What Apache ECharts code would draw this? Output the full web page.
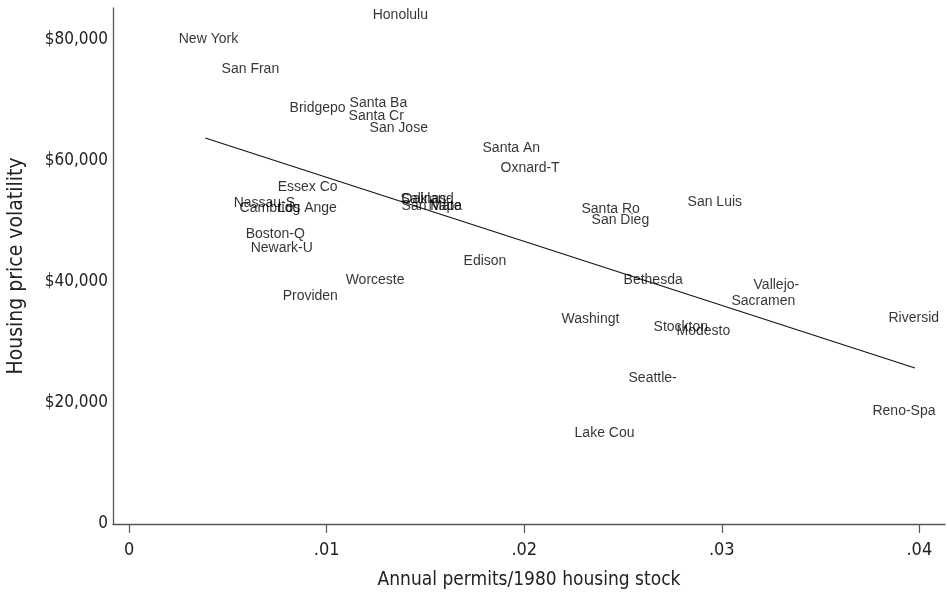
<!DOCTYPE html>
<html>
<head>
<meta charset="utf-8">
<script src="https://cdn.jsdelivr.net/npm/echarts@6/dist/echarts.min.js"></script>
<style>
  html, body { margin: 0; padding: 0; background: #fff; }
  #chart { width: 947px; height: 603px; }
</style>
</head>
<body>
<div id="chart"></div>
<script>
// Metro areas: annual permits relative to 1980 housing stock vs. housing price volatility
const cities = [
  'Honolulu', 'New York', 'San Fran', 'Bridgepo', 'Santa Ba', 'Santa Cr', 'San Jose',
  'Santa An', 'Oxnard-T', 'Essex Co', 'Nassau-S', 'Cambridg', 'Los Ange', 'Salinas-',
  'Oakland', 'San Mate', 'Napa', 'Santa Ro', 'San Dieg', 'San Luis', 'Boston-Q',
  'Newark-U', 'Worceste', 'Providen', 'Edison', 'Bethesda', 'Vallejo-', 'Sacramen',
  'Washingt', 'Stockton', 'Modesto', 'Riversid', 'Seattle-', 'Reno-Spa', 'Lake Cou'
];
const permits = [
  0.01210, 0.00228, 0.00445, 0.00789, 0.01093, 0.01088, 0.01194,
  0.01766, 0.01857, 0.00729, 0.00506, 0.00536, 0.00729, 0.01351,
  0.01356, 0.01356, 0.01493, 0.02267, 0.02318, 0.02804, 0.00567,
  0.00592, 0.01073, 0.00754, 0.01670, 0.02480, 0.03138, 0.03026,
  0.02166, 0.02632, 0.02748, 0.03821, 0.02505, 0.03740, 0.02232
];
const volatility = [
  84100, 80200, 75200, 68800, 69600, 67400, 65500,
  62100, 58800, 55700, 53100, 52200, 52200, 53700,
  53700, 52600, 52600, 52100, 50200, 53200, 47900,
  45600, 40300, 37700, 43500, 40300, 39500, 36900,
  33900, 32500, 31800, 34100, 24100, 18700, 15000
];

// Fitted regression line endpoints
const fitX = [0.00385, 0.03978];
const fitY = [63800, 25800];

// Axis ticks
const xTicks = [0, 0.01, 0.02, 0.03, 0.04];
const yTicks = [0, 20000, 40000, 60000, 80000];

const narrow = "'DejaVu Sans Condensed', 'Liberation Sans Narrow', sans-serif";

const scatterData = cities.map((c, i) => ({ name: c, value: [permits[i], volatility[i]] }));
const fitData = fitX.map((x, i) => [x, fitY[i]]);

const chart = echarts.init(document.getElementById('chart'), null, { renderer: 'canvas' });
chart.setOption({
  animation: false,
  backgroundColor: '#ffffff',
  grid: { left: 113, right: 2, top: 8, bottom: 79, containLabel: false, outerBoundsMode: 'none' },
  xAxis: {
    type: 'value',
    min: -0.00082,
    max: 0.0413,
    splitLine: { show: false },
    axisLine: { onZero: false, lineStyle: { color: '#555', width: 1.3 } },
    axisTick: { show: true, customValues: xTicks, length: 9, lineStyle: { color: '#555', width: 1.2 } },
    axisLabel: {
      customValues: xTicks,
      margin: 17,
      color: '#222',
      fontFamily: narrow,
      fontSize: 18,
      formatter: v => v === 0 ? '0' : ('.' + String(Math.round(v * 100)).padStart(2, '0'))
    },
    name: 'Annual permits/1980 housing stock',
    nameLocation: 'middle',
    nameGap: 47,
    nameTextStyle: { color: '#222', fontFamily: narrow, fontSize: 19 }
  },
  yAxis: {
    type: 'value',
    min: 0,
    max: 85290,
    splitLine: { show: false },
    axisLine: { show: true, onZero: false, lineStyle: { color: '#555', width: 1.3 } },
    axisTick: { show: false },
    axisLabel: {
      customValues: yTicks,
      margin: 5,
      color: '#222',
      fontFamily: narrow,
      fontSize: 17,
      formatter: v => v === 0 ? '0' : '$' + v.toLocaleString('en-US')
    },
    name: 'Housing price volatility',
    nameLocation: 'middle',
    nameRotate: 90,
    nameGap: 86,
    nameTextStyle: { color: '#222', fontFamily: narrow, fontSize: 21 }
  },
  series: [
    {
      type: 'scatter',
      data: scatterData,
      symbolSize: 1,
      itemStyle: { color: 'rgba(0,0,0,0)' },
      label: {
        show: true,
        position: 'right',
        distance: 4,
        formatter: p => p.name,
        color: '#000',
        fontFamily: "'Liberation Sans', Arial, sans-serif",
        fontSize: 14
      },
      labelLayout: { hideOverlap: false },
      emphasis: { disabled: true },
      z: 3
    },
    {
      type: 'line',
      data: fitData,
      symbol: 'none',
      lineStyle: { color: '#111', width: 1.1 },
      z: 2
    }
  ]
});
</script>
</body>
</html>
